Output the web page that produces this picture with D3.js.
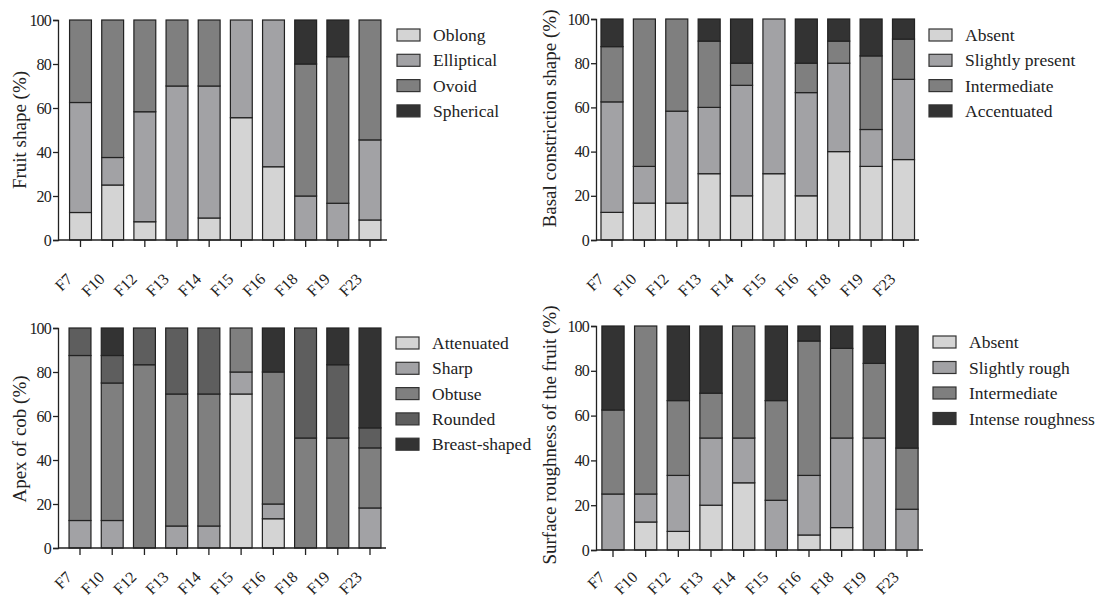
<!DOCTYPE html>
<html>
<head>
<meta charset="utf-8">
<script src="https://cdn.jsdelivr.net/npm/d3@7"></script>
<style>
  body { margin: 0; background: #fff; }
  svg text { font-family: "Liberation Serif", "Times New Roman", serif; }
</style>
</head>
<body>
<svg id="chart" width="1100" height="600"></svg>
<script>
// accessions on the x axis (same for all four panels)
var groups = ["F7", "F10", "F12", "F13", "F14", "F15", "F16", "F18", "F19", "F23"];
var yTicks = [0, 20, 40, 60, 80, 100];

// fruit shape (%)
var shapeNames = ["Oblong", "Elliptical", "Ovoid", "Spherical"];
var oblong     = [12.5, 25, 8.3, 0, 10, 55.6, 33.3, 0, 0, 9.1];
var elliptical = [50, 12.5, 50, 70, 60, 44.4, 66.7, 20, 16.7, 36.4];
var ovoid      = [37.5, 62.5, 41.7, 30, 30, 0, 0, 60, 66.6, 54.5];
var spherical  = [0, 0, 0, 0, 0, 0, 0, 20, 16.7, 0];

// basal constriction shape (%)
var basalNames = ["Absent", "Slightly present", "Intermediate", "Accentuated"];
var basalAbsent       = [12.5, 16.7, 16.7, 30, 20, 30, 20, 40, 33.3, 36.4];
var basalSlight       = [50, 16.6, 41.6, 30, 50, 70, 46.7, 40, 16.7, 36.3];
var basalIntermediate = [25, 66.7, 41.7, 30, 10, 0, 13.3, 10, 33.3, 18.2];
var basalAccentuated  = [12.5, 0, 0, 10, 20, 0, 20, 10, 16.7, 9.1];

// apex of cob (%)
var apexNames = ["Attenuated", "Sharp", "Obtuse", "Rounded", "Breast-shaped"];
var attenuated = [0, 0, 0, 0, 0, 70, 13.3, 0, 0, 0];
var sharp      = [12.5, 12.5, 0, 10, 10, 10, 6.7, 0, 0, 18.2];
var obtuse     = [75, 62.5, 83.3, 60, 60, 20, 60, 50, 50, 27.3];
var rounded    = [12.5, 12.5, 16.7, 30, 30, 0, 0, 50, 33.3, 9.1];
var breast     = [0, 12.5, 0, 0, 0, 0, 20, 0, 16.7, 45.4];

// surface roughness of the fruit (%)
var roughNames = ["Absent", "Slightly rough", "Intermediate", "Intense roughness"];
var roughAbsent       = [0, 12.5, 8.3, 20, 30, 0, 6.7, 10, 0, 0];
var roughSlight       = [25, 12.5, 25, 30, 20, 22.2, 26.6, 40, 50, 18.2];
var roughIntermediate = [37.5, 75, 33.4, 20, 50, 44.5, 60, 40, 33.3, 27.3];
var roughIntense      = [37.5, 0, 33.3, 30, 0, 33.3, 6.7, 10, 16.7, 54.5];

// grey palettes
var grey4 = ["#d4d4d4", "#a2a2a5", "#7f7f7f", "#333333"];
var grey5 = ["#d4d4d4", "#a2a2a5", "#7f7f7f", "#5e5e5e", "#333333"];

var serif = '"Liberation Serif", "Times New Roman", serif';
var svg = d3.select("#chart");

// turns the per-series arrays into rows for d3.stack
function makeRows(series) {
	return groups.map(function (g, i) {
		var row = { group: g };
		series.forEach(function (s, k) { row["s" + k] = s[i]; });
		return row;
	});
}

function drawPanel(cfg) {
	var g = svg.append("g");
	var step = (cfg.c1 - cfg.c0) / (groups.length - 1);

	var x = d3.scaleBand()
		.domain(groups)
		.range([cfg.c0 - step / 2, cfg.c1 + step / 2])
		.paddingInner(0.32)
		.paddingOuter(0.16);

	var y = d3.scaleLinear()
		.domain([0, 100])
		.range([cfg.yBottom, cfg.yTop]);

	var keys = cfg.series.map(function (s, k) { return "s" + k; });
	var stacked = d3.stack().keys(keys)(makeRows(cfg.series));

	// stacked bars
	g.selectAll("g.layer")
		.data(stacked)
		.enter().append("g")
		.attr("class", "layer")
		.attr("fill", (d, i) => cfg.colors[i])
		.selectAll("rect")
		.data(d => d.filter(p => p[1] - p[0] > 0))
		.enter().append("rect")
		.attr("x", d => x(d.data.group))
		.attr("width", x.bandwidth())
		.attr("y", d => y(d[1]))
		.attr("height", d => y(d[0]) - y(d[1]))
		.attr("stroke", "#222")
		.attr("stroke-width", 1.2);

	// y axis
	var yaxis = g.append("g")
		.attr("transform", `translate(${cfg.axisX},0)`)
		.call(d3.axisLeft(y).tickValues(yTicks).tickSize(5).tickPadding(2))
		.attr("font-family", serif);
	yaxis.select(".domain").attr("stroke", "#222").attr("stroke-width", 1.3);
	yaxis.selectAll(".tick line").attr("stroke", "#222").attr("stroke-width", 1.3);
	yaxis.selectAll("text")
		.attr("fill", "#222")
		.style("font-size", "16px")
		.style("letter-spacing", "-0.8px");

	// x axis
	var xaxis = g.append("g")
		.attr("transform", `translate(0,${cfg.yBottom})`);
	xaxis.append("line")
		.attr("x1", cfg.axisX).attr("x2", cfg.xEnd)
		.attr("stroke", "#222").attr("stroke-width", 1.3);
	var xt = xaxis.selectAll("g.xt")
		.data(groups)
		.enter().append("g")
		.attr("class", "xt")
		.attr("transform", d => `translate(${x(d) + x.bandwidth() / 2},0)`);
	xt.append("line")
		.attr("y2", 7)
		.attr("stroke", "#222").attr("stroke-width", 1.3);
	xt.append("text")
		.attr("transform", `translate(-7,${cfg.labDy}) rotate(-45)`)
		.attr("text-anchor", "end")
		.attr("fill", "#222")
		.style("font-size", "16px")
		.text(d => d);

	// y title
	g.append("text")
		.attr("transform", `translate(${cfg.titleX},${(cfg.yTop + cfg.yBottom) / 2 + cfg.titleDy}) rotate(-90)`)
		.attr("text-anchor", "middle")
		.attr("dy", "0.35em")
		.attr("fill", "#222")
		.style("font-size", "19px")
		.text(cfg.title);

	// legend
	var leg = g.selectAll("g.leg")
		.data(cfg.names)
		.enter().append("g")
		.attr("class", "leg")
		.attr("transform", (d, i) => `translate(${cfg.legX},${cfg.legY + i * cfg.legStep})`);
	leg.append("rect")
		.attr("x", 0).attr("y", -6)
		.attr("width", 23).attr("height", 12)
		.attr("fill", (d, i) => cfg.colors[i])
		.attr("stroke", "#333").attr("stroke-width", 1.2);
	leg.append("text")
		.attr("x", 36)
		.attr("dy", "0.35em")
		.attr("fill", "#222")
		.style("font-size", "17.5px")
		.text(d => d);
}

drawPanel({
	title: "Fruit shape (%)", names: shapeNames, colors: grey4,
	series: [oblong, elliptical, ovoid, spherical],
	axisX: 58, yTop: 20, yBottom: 240, c0: 80.5, c1: 370, xEnd: 387, labDy: 40,
	titleX: 19, titleDy: 0, legX: 397, legY: 35, legStep: 25.3
});

drawPanel({
	title: "Basal constriction shape (%)", names: basalNames, colors: grey4,
	series: [basalAbsent, basalSlight, basalIntermediate, basalAccentuated],
	axisX: 596, yTop: 19, yBottom: 240, c0: 612, c1: 903.5, xEnd: 919, labDy: 40,
	titleX: 549, titleDy: -11, legX: 929, legY: 35, legStep: 25.3
});

drawPanel({
	title: "Apex of cob (%)", names: apexNames, colors: grey5,
	series: [attenuated, sharp, obtuse, rounded, breast],
	axisX: 58, yTop: 328, yBottom: 548, c0: 80, c1: 370, xEnd: 386, labDy: 30,
	titleX: 19, titleDy: 1, legX: 396, legY: 343, legStep: 25.3
});

drawPanel({
	title: "Surface roughness of the fruit (%)", names: roughNames, colors: grey4,
	series: [roughAbsent, roughSlight, roughIntermediate, roughIntense],
	axisX: 596, yTop: 326, yBottom: 550, c0: 613, c1: 907, xEnd: 923, labDy: 28,
	titleX: 549, titleDy: -3, legX: 933, legY: 342, legStep: 25.5
});
</script>
</body>
</html>
